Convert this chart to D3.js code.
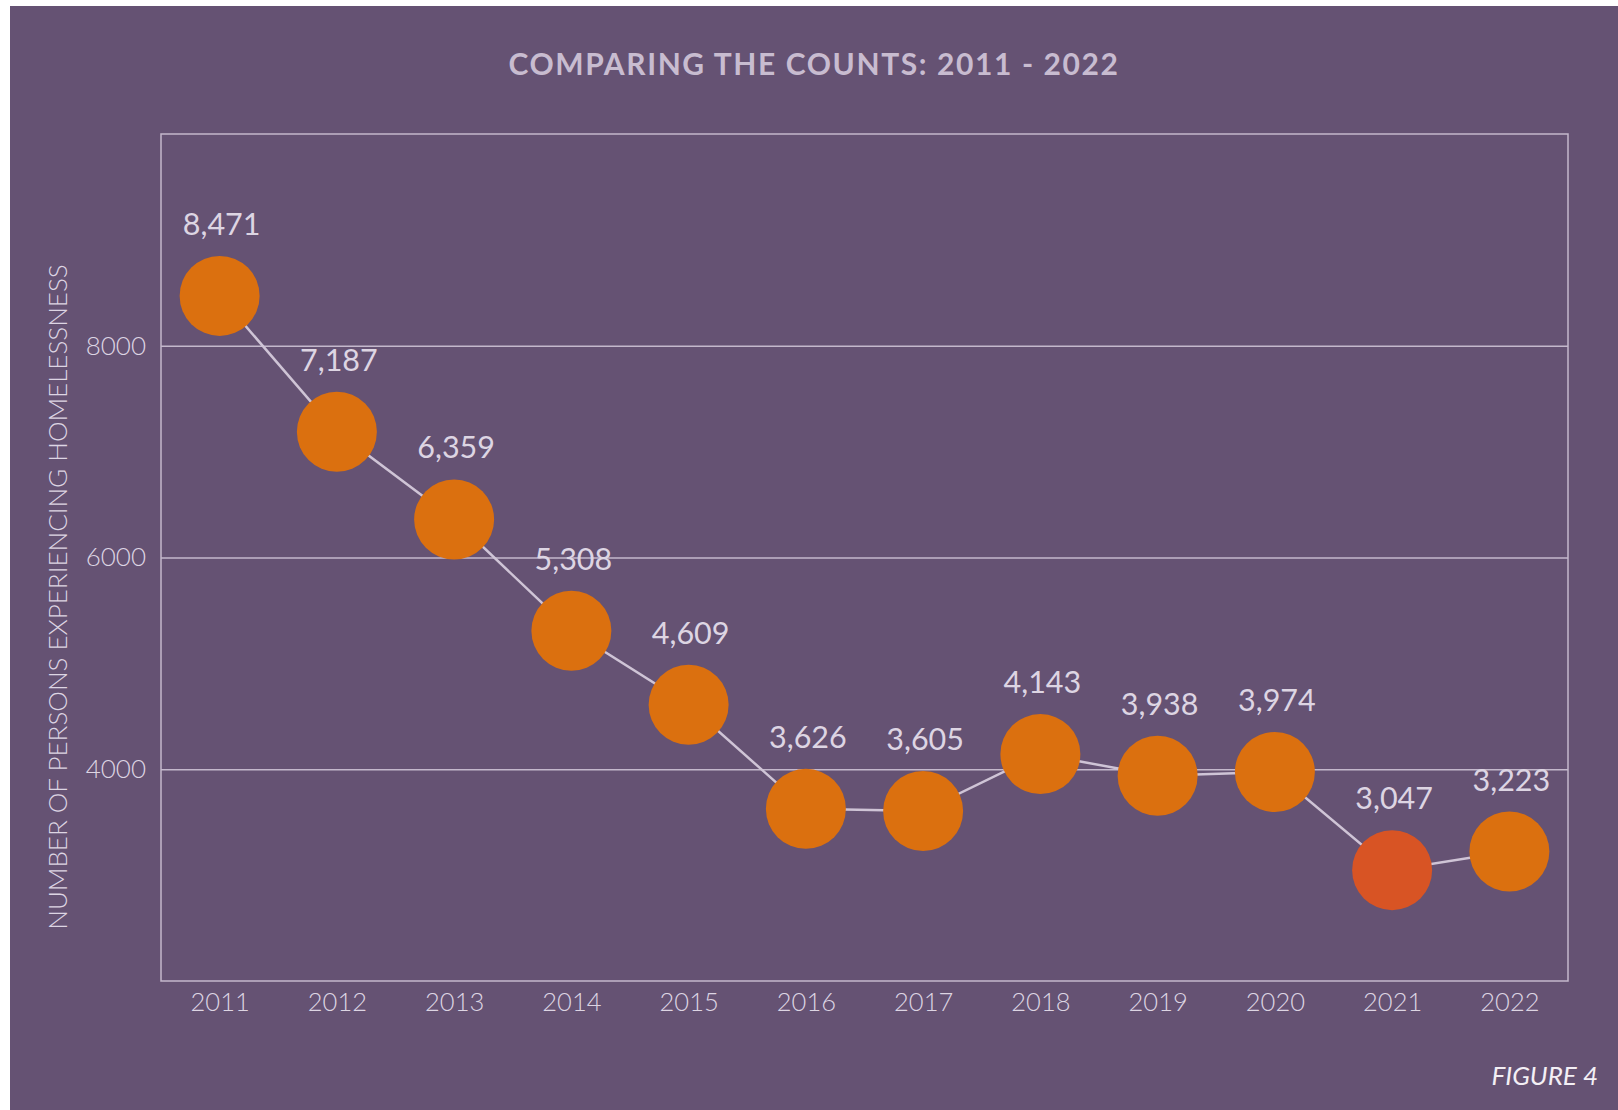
<!doctype html>
<html>

<head>
    <meta charset="utf-8">
    <title>Comparing the counts</title>
    <style>
    body { margin: 0; background: #fff; }
    text { font-family: Lato, "Open Sans", sans-serif; }
    .axis .domain { display: none; }
    .axis text { font-weight: 300; fill: #ddd5e3; }
    .axis--y text { font-size: 26px; }
    .axis--x text { font-size: 25.5px; }
    .axis--y line { stroke: #c4b8cc; stroke-width: 1.5px; }
    .axis--x line { display: none; }
    </style>
    <script src="https://d3js.org/d3.v7.min.js"></script>
</head>

<body>
    <svg width="1618" height="1110"></svg>
    <script>
    var years = ["2011", "2012", "2013", "2014", "2015", "2016", "2017", "2018", "2019", "2020", "2021", "2022"];
    var counts = [8471, 7187, 6359, 5308, 4609, 3626, 3605, 4143, 3938, 3974, 3047, 3223];
    var yTicks = [4000, 6000, 8000];
    var highlightYear = "2021";

    var svg = d3.select("svg"),
        margin = { top: 134, right: 50, bottom: 129, left: 161 },
        width = +svg.attr("width") - margin.left - margin.right,
        height = +svg.attr("height") - margin.top - margin.bottom;

    svg.append("rect")
        .attr("x", 10).attr("y", 6)
        .attr("width", 1608).attr("height", 1104)
        .attr("fill", "#655273");

    svg.append("text")
        .attr("x", 814).attr("y", 75)
        .attr("text-anchor", "middle")
        .attr("font-weight", 700)
        .attr("font-size", 30)
        .attr("letter-spacing", 1.6)
        .attr("fill", "#c8bcd0")
        .text("COMPARING THE COUNTS: 2011 - 2022");

    var g = svg.append("g").attr("transform", "translate(" + margin.left + "," + margin.top + ")");

    var x = d3.scalePoint()
        .domain(years)
        .range([0, width])
        .padding(0.5);

    var y = d3.scaleLinear()
        .domain([2000, 10000])
        .range([height, 0]);

    g.append("g")
        .attr("class", "axis axis--y")
        .call(d3.axisLeft(y).tickValues(yTicks).tickSize(-width).tickPadding(15).tickFormat(d3.format("d")));

    g.append("g")
        .attr("class", "axis axis--x")
        .attr("transform", "translate(0," + height + ")")
        .call(d3.axisBottom(x).tickSize(0).tickPadding(12));

    // frame
    g.append("rect")
        .attr("width", width)
        .attr("height", height)
        .attr("fill", "none")
        .attr("stroke", "#c4b8cc")
        .attr("stroke-width", 1.5);

    g.append("text")
        .attr("transform", "translate(" + (57 - margin.left) + "," + (597 - margin.top) + ") rotate(-90)")
        .attr("text-anchor", "middle")
        .attr("dominant-baseline", "central")
        .attr("font-weight", 300)
        .attr("font-size", 26)
        .attr("fill", "#ddd5e3")
        .text("NUMBER OF PERSONS EXPERIENCING HOMELESSNESS");

    var line = d3.line()
        .x(function(d, i) { return x(years[i]); })
        .y(function(d) { return y(d); });

    g.append("path")
        .datum(counts)
        .attr("d", line)
        .attr("fill", "none")
        .attr("stroke", "#cfc4d6")
        .attr("stroke-width", 2.5);

    g.selectAll(".dot")
        .data(counts)
        .enter().append("circle")
        .attr("class", "dot")
        .attr("cx", function(d, i) { return x(years[i]); })
        .attr("cy", function(d) { return y(d); })
        .attr("r", 40)
        .attr("fill", function(d, i) { return years[i] === highlightYear ? "#d85424" : "#db700f"; });

    g.selectAll(".value")
        .data(counts)
        .enter().append("text")
        .attr("class", "value")
        .attr("x", function(d, i) { return x(years[i]) + 2; })
        .attr("y", function(d) { return y(d) - 61; })
        .attr("text-anchor", "middle")
        .attr("font-size", 30.5)
        .attr("fill", "#ddd5e3")
        .text(function(d) { return d3.format(",")(d); });

    svg.append("text")
        .attr("x", 1598).attr("y", 1085)
        .attr("text-anchor", "end")
        .attr("font-style", "italic")
        .attr("font-size", 26)
        .attr("fill", "#f3eff5")
        .text("FIGURE 4");
    </script>
</body>

</html>
